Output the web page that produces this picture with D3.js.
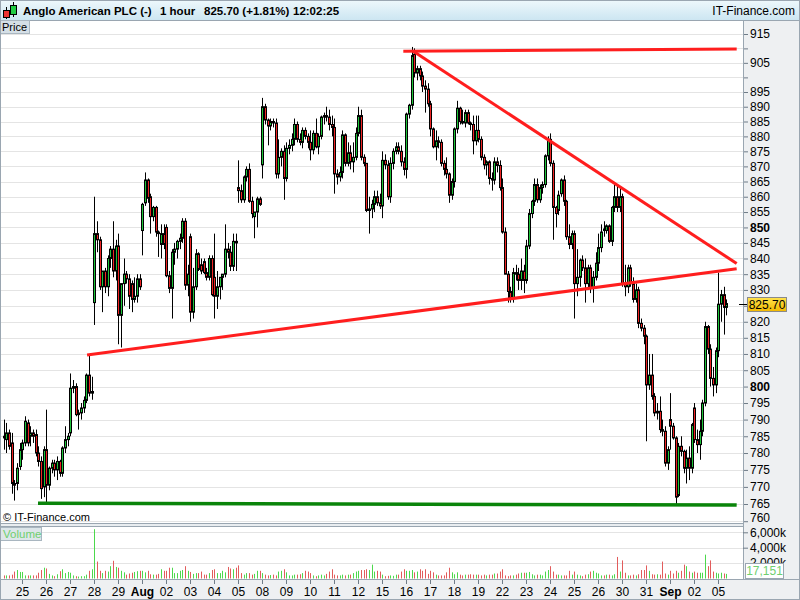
<!DOCTYPE html>
<html>
<head>
<meta charset="utf-8">
<script src="https://cdn.jsdelivr.net/npm/d3@7"></script>
<style>
body { margin: 0; background: #fff; }
svg { display: block; font-family: "Liberation Sans", Arial, sans-serif; }
</style>
</head>
<body>
<div id="chart"></div>
<script>
// day labels under the x axis (first one is Jul 25, a partial Jul 22 comes before it)
var dayLabels = ["25","26","27","28","29","Aug","02","03","04","05","08","09","10","11","12","15",
                 "16","17","18","19","22","23","24","25","26","30","31","Sep","02","05"];
var boldLabels = ["Aug", "Sep"];
var firstDayCount = 7;   // hourly bars of Jul 22 still on screen
var barsPerDay = 9;

// hourly candles [open, high, low, close]
var candles = [
  // Jul 22
  [785,790,781,784.5],[784,789,780,786],[786,787,781,782],[783,786,768,771],[771,772,766,770.5],[771,777,769,775.5],[776,783,775,781],
  // Jul 25
  [781,784,778,783],[783,791,782,789.5],[789,790,782,783],[785,788,782,786],[786,787,783,785],[785.5,787,779,780],[780,782,776,777.5],[777.5,779,766.5,769.5],[770,782,767,781],
  // Jul 26
  [781,793,765,770.5],[770.5,776,769,775.5],[775.5,778,774,777],[777,778,773,775],[775,779,772,777.5],[777.5,778,773,774],[774,782,773,781.5],[781.5,788,780,784],[784,786,782,785],
  // Jul 27
  [786,804,785,799.5],[799.5,802,798,800],[800,801,791,791.5],[791.5,793,787,792],[792,795,790,793.5],[793.5,797,792,795.8],[795.8,804,795,803.5],[803.5,810,797,798],[798,803,796,798.5],
  // Jul 28
  [826,860,819,848],[848,852,842,846],[846,847,830,831],[831,836,823,836],[836,837,829,831],[831,841,828,840],[840,844,837,843],[843,852,834,836],[836,846,833,844],
  // Jul 29
  [844,848,813,822],[822,832,812,832],[832,840,825,835],[835,836,832,833.5],[833.5,835,824,828],[832,833,823,827],[827,834,826,828],[828,835,826,833.5],[833.5,835,830,831],
  // Aug 01
  [849,858,841,857.5],[858,868,857,865.5],[865.5,866,858,859.5],[860,861,848,853.5],[853.5,857,852,856.5],[856.5,857,847,848.5],[848.5,849,840.5,848],[844.5,851,840,848],[848,851,843,844.5],
  // Aug 02
  [850,851,834,834.5],[834.5,836,829,830.5],[830.5,843,821,842],[842,845,838,843],[843,846,840,845.5],[845.5,848,843,846.5],[846.5,853,845,852],[852,853,830,831.5],[831.5,838,828,835],
  // Aug 03
  [847,848,820,823],[823,837,821,831],[831,843,830,841.5],[841.5,842,836,836.5],[838,840,835,836],[839,840,835,835.5],[835.5,837,833,834],[834,841,833,840],[840,841,828,828.5],
  // Aug 04
  [834,848,821,828],[828,836,824,831],[831,834,827,834],[834,835,830,835],[835,851,834,843],[843,845,840,842],[842,844,836,837.5],[837.5,848,836,845.5],[845.5,848,836,845],
  // Aug 05
  [863,872,858,862],[862,864,858,859],[859,867,858,866.5],[866.5,870,865,869],[869,871,858,858.5],[858.5,860,853,854.5],[853.5,855,846.5,855],[855,860,850,859.3],[859.3,860,857,857.5],
  // Aug 08
  [870.5,893,866,890],[890,891,884,885.5],[885.5,886,877,883.5],[883.5,886,882,885],[885,886,883,884.5],[884.5,886,866,867.5],[867.5,879,866,873],[873,876,870,875],[875,877,859,866],
  // Aug 09
  [866,878,865,876],[876,879,874,877],[877,881,875,879],[879,886,877,884],[884,885,878,879],[879,881,877,878],[878,883,876,882],[882,883,879,880],[880,881,876,878],
  // Aug 10
  [878,882,872,875.5],[875.5,882,874,881],[881,886,876,876.5],[876.5,881,874,880],[880,887,879,886.5],[886.5,888,884,887],[887,890,885,886.5],[886.5,889,882,884],[884,887,880,883],
  // Aug 11
  [883,886,861,867.5],[867.5,869,864,866.5],[866.5,870,865,868],[868,882,866,880.5],[880.5,881,870,871],[871,878,870,874.5],[874.5,877,869,871.5],[871.5,878,868,873],[873,883,872,881],
  // Aug 12
  [881,890,880,887],[887,889,872,873],[873,874,870,871],[871,871,855,855.5],[855.5,860,848,856],[856,859,853,857.5],[857.5,862,855,860],[860,862,857,858],[858,861,856,857],
  // Aug 15
  [857,875,853,872],[872,874,869,870.5],[870.5,872,859,860],[860,873,858,871],[871,876,869,875],[875,878,874,876.5],[876.5,878,874,875],[875,877,870,871.5],[871.5,873,867,869],
  // Aug 16
  [869,888,866,887.5],[887.5,891,886,890.5],[890.5,910.5,889,907.5],[908,910,900,901.5],[901.5,904,899,903],[903,904,899,900.5],[900.5,902,895,897],[897,899,888,896],[896,898,890,891],
  // Aug 17
  [891,892,880,882.5],[882.5,883,876,876.5],[876.5,882,872,878.5],[878.5,880,876,878],[878,879,870,871],[871,872,867,869],[869,873,866,867.5],[867.5,868,858,860.5],[860.5,866,859,865],
  // Aug 18
  [865,883,863,882.5],[882.5,892,881,889.5],[889.5,890,884,885],[885,889,884,884.5],[884.5,889,883,888],[888,889,884,884.5],[884.5,885,882,884],[884,887,874,878.5],[878.5,887,877,882],
  // Aug 19
  [882,887,878,879],[879,880,872,873],[873,874,869,870.5],[870.5,872,867,871.5],[871.5,872,864,866],[866,868,862,865.5],[865.5,873,864,871.5],[871.5,873,868,870.3],[870.3,872,862,863],
  // Aug 22
  [863,866,848,848.5],[848.5,850,835,835],[835,836,826,829.5],[829.5,831,826,827.5],[827.5,837,826,835.5],[835.5,838,833,835],[835,837,830,833],[833,840,830,836],[836,838,829,833],
  // Aug 23
  [833,846,832,844],[844,856,843,854.5],[854.5,859,853,858.5],[858.5,866,857,864],[864,866,858,859],[859,864,858,863],[863,865,861,864],[864,874,863,873.5],[873.5,880,872,879],
  // Aug 24
  [879,881,870,871],[871,872,846,856.5],[856.5,857,850,854.5],[855.5,862,854,860.5],[861,866,860,865.5],[865.5,867,857,858.5],[858.5,859,846,847],[847,851,843,844.5],[844.5,849,843,848],
  // Aug 25
  [848,849,821,832],[832,843,828,834],[834,840,831,839.5],[839.5,841,836,837],[837,840,826,832],[832,838,830,837],[837,838,829,830.5],[830.5,836,826,834],[834,842,833,838.5],
  // Aug 26
  [838.5,848,836,843.5],[843.5,851,842,848.5],[849.5,852,847,849],[849,851,848,850.5],[850.5,851,845,845.5],[845.5,857,844,856.5],[856.5,864,855,860],[860,864,855,856.5],[856.5,863,855,860],
  // Aug 30
  [860,861,831,832],[832,838,828,831],[831,838,829,837],[837,838,831,832],[832,834,826,827],[827,832,826,830],[830,831,818,819.5],[819.5,821,817,818],[818,819,813,815.5],
  // Aug 31
  [815.5,816,783.5,800.5],[800.5,810,799,803.5],[803.5,810,796,797],[797,798,791,792],[792,795,790,792.5],[792.5,797,786,787],[787,790,785,786.5],[786.5,788,776,777],[777,782,775,781],
  // Sep 01
  [790,798,781,788],[788,789,784,784.5],[784.5,785,765,767],[767.5,783,767,782],[782,785,779,780.5],[780.5,781,774,775.5],[775.5,781,771,778.5],[778.5,782,772,775.5],[775.5,789,774,788.5],
  // Sep 02
  [793.5,795,783,784],[784,787,780,782.5],[782.5,790,778,786.5],[786.5,796,785,795],[795,820,794,818.5],[818.5,819,810,811.5],[811.5,813,800,802.5],[802.5,806,797,800.5],[800.5,812,798,811],
  // Sep 05
  [811,835.5,809,825.5],[825.5,830,820,828.5],[828.5,831,816,824.5],[824.5,827,822,825.7]
];

// hourly volume, thousands of shares
var volumes = [
  400,400,400,500,900,1100,850,
  850,400,400,400,400,400,750,1100,1400,
  1300,600,400,300,550,950,1200,700,850,
  750,400,300,250,300,300,500,1000,1200,
  6400,2200,1000,700,1000,900,1600,2300,1500,
  1400,1000,800,500,650,750,850,950,1000,
  1000,800,1000,550,500,500,600,1200,1000,
  1000,1400,1400,700,700,1000,1100,1600,1000,
  850,600,700,700,900,500,500,700,1100,
  1200,700,700,1000,800,1500,1300,1200,1400,
  1700,700,500,700,700,500,600,1000,1000,
  700,500,400,450,500,400,900,1000,1200,
  800,400,400,500,500,550,700,1000,900,
  700,400,300,400,500,400,600,900,1200,
  500,400,400,500,400,500,500,700,900,
  1000,1100,1100,1200,1100,1800,900,1000,900,
  500,300,350,400,350,500,500,900,1200,
  1000,1000,1100,800,900,1200,1000,1200,600,
  1000,800,500,400,400,400,800,1400,800,
  550,800,500,400,500,500,550,500,500,
  500,400,500,400,500,500,650,650,900,
  1200,400,300,400,400,500,650,750,750,
  750,850,550,400,500,500,400,900,1100,
  1600,900,500,500,400,400,400,1000,500,
  900,500,400,300,500,550,900,1000,750,
  650,400,400,500,500,400,550,2800,900,
  2350,750,400,400,500,400,550,1100,1100,
  1700,1000,550,500,550,500,2200,650,500,
  1000,650,1000,750,1000,1800,1600,900,750,
  900,750,750,750,3100,1600,2350,900,750,
  650,750,650,600
];

var priceTicks = d3.range(760, 916, 5);
var unlabelled = [900, 910, 825];   // 825 sits under the last-price tag
var boldPrices = [850, 800];
var volTicks = [2000, 4000, 6000];

// drawn trend lines: [bar index, price] -> [bar index, price]
var redLines = [
  [[150, 909.0], [275, 909.8]],
  [[153.6, 909.1], [275, 838.4]],
  [[31.4, 809.7], [275, 836.7]]
];
var greenLines = [
  [[13, 765.2], [275, 764.7]]
];

var lastPrice = 825.70;
var lastVolume = "17,151";
var title = ["Anglo American PLC (-)", "1 hour", "825.70 (+1.81%)", "12:02:25"];

var W = 800, H = 600;
var plotRight = 743;
var upColor = "#1ec43a", downColor = "#ee2424";
var volUp = "#4cd94c", volDown = "#e25c5c";
var frame = "#9aa6b1";

var svg = d3.select("#chart").append("svg")
    .attr("width", W)
    .attr("height", H);

var defs = svg.append("defs");
var hg = defs.append("linearGradient").attr("id", "hdr").attr("x1", 0).attr("y1", 0).attr("x2", 0).attr("y2", 1);
hg.append("stop").attr("offset", "0%").attr("stop-color", "#eef8fc");
hg.append("stop").attr("offset", "100%").attr("stop-color", "#cbe5f1");
var gg = defs.append("linearGradient").attr("id", "gold").attr("x1", 0).attr("y1", 0).attr("x2", 0).attr("y2", 1);
gg.append("stop").attr("offset", "0%").attr("stop-color", "#ffe34d");
gg.append("stop").attr("offset", "100%").attr("stop-color", "#f2b800");
defs.append("clipPath").attr("id", "pclip").append("rect")
    .attr("x", 0).attr("y", 22).attr("width", plotRight).attr("height", 501);
// the 2,000k label is half hidden by the last-volume tag (coords local to the axis group)
defs.append("clipPath").attr("id", "vclip").append("rect")
    .attr("x", 0).attr("y", 527).attr("width", W - plotRight).attr("height", 36);

// scales
var x = d3.scaleLinear()
    .domain([firstDayCount, firstDayCount + barsPerDay * 29])
    .range([22, 718]);
var y = d3.scaleLog().domain([765, 915]).range([504, 34]);
var yv = d3.scaleLinear().domain([0, 6000]).range([578.5, 532.3]);

function cx(i) { return Math.round(x(i + 0.5)) - 0.5; }

svg.append("rect").attr("width", W).attr("height", H).attr("fill", "#fff");

// header
svg.append("rect").attr("x", 0).attr("y", 0).attr("width", W).attr("height", 21).attr("fill", "url(#hdr)");
svg.append("line").attr("x1", 0).attr("x2", W).attr("y1", 20.5).attr("y2", 20.5).attr("stroke", frame);

// little candle icon
var icon = svg.append("g");
icon.append("line").attr("x1", 6.5).attr("x2", 6.5).attr("y1", 7).attr("y2", 19).attr("stroke", "#000");
icon.append("rect").attr("x", 3.5).attr("y", 10.5).attr("width", 6).attr("height", 7).attr("fill", "#ee3333").attr("stroke", "#000");
icon.append("line").attr("x1", 13.5).attr("x2", 13.5).attr("y1", 2).attr("y2", 17).attr("stroke", "#000");
icon.append("rect").attr("x", 10.5).attr("y", 5.5).attr("width", 6).attr("height", 9).attr("fill", "#22cc44").attr("stroke", "#000");

var titleX = [23, 160, 204, 293];
svg.selectAll("text.title")
  .data(title)
  .enter()
  .append("text")
    .attr("class", "title")
    .attr("x", function(d, i) { return titleX[i]; })
    .attr("y", 15)
    .attr("font-size", "11.5px")
    .attr("font-weight", "bold")
    .text(function(d) { return d; });

svg.append("text").attr("x", 795).attr("y", 15).attr("text-anchor", "end")
    .attr("font-size", "12px").text("IT-Finance.com");

// right axis + bottom axis background
svg.append("rect").attr("x", plotRight).attr("y", 21).attr("width", W - plotRight).attr("height", 559).attr("fill", "#eef0f2");
svg.append("rect").attr("x", 0).attr("y", 580).attr("width", W).attr("height", 20).attr("fill", "#eef0f2");

// price grid
var plot = svg.append("g").attr("clip-path", "url(#pclip)");
plot.selectAll("line.grid")
  .data(priceTicks)
  .enter()
  .append("line")
    .attr("x1", 0).attr("x2", plotRight)
    .attr("y1", function(d) { return Math.round(y(d)) + 0.5; })
    .attr("y2", function(d) { return Math.round(y(d)) + 0.5; })
    .attr("stroke", "#e4e4e4");

// candles
var bars = plot.selectAll("g.bar")
  .data(candles)
  .enter()
  .append("g");
bars.append("line")
    .attr("x1", function(d, i) { return cx(i); })
    .attr("x2", function(d, i) { return cx(i); })
    .attr("y1", function(d) { return y(d[1]); })
    .attr("y2", function(d) { return y(d[2]); })
    .attr("stroke", "#000");
bars.append("rect")
    .attr("x", function(d, i) { return cx(i) - 1; })
    .attr("width", 2)
    .attr("y", function(d) { return y(Math.max(d[0], d[3])); })
    .attr("height", function(d) { return Math.max(1, Math.abs(y(d[0]) - y(d[3]))); })
    .attr("fill", function(d) { return d[3] >= d[0] ? upColor : downColor; })
    .attr("stroke", "#000");

// trend lines
function lineXY(p) { return [x(p[0]), y(p[1])]; }
plot.selectAll("line.red")
  .data(redLines)
  .enter()
  .append("line")
    .attr("x1", function(d) { return lineXY(d[0])[0]; })
    .attr("y1", function(d) { return lineXY(d[0])[1]; })
    .attr("x2", function(d) { return lineXY(d[1])[0]; })
    .attr("y2", function(d) { return lineXY(d[1])[1]; })
    .attr("stroke", "#ff1e1e")
    .attr("stroke-width", 3);
plot.selectAll("line.green")
  .data(greenLines)
  .enter()
  .append("line")
    .attr("x1", function(d) { return lineXY(d[0])[0]; })
    .attr("y1", function(d) { return lineXY(d[0])[1]; })
    .attr("x2", function(d) { return lineXY(d[1])[0]; })
    .attr("y2", function(d) { return lineXY(d[1])[1]; })
    .attr("stroke", "#0a840a")
    .attr("stroke-width", 3.5);

svg.append("text").attr("x", 3).attr("y", 521).attr("font-size", "11px").text("\u00a9 IT-Finance.com");

// Price tag top-left
svg.append("rect").attr("x", 0.5).attr("y", 20.5).attr("width", 29).attr("height", 13).attr("fill", "#d5dfe6").attr("stroke", "#a9b6c0");
svg.append("text").attr("x", 2).attr("y", 31).attr("font-size", "11px").text("Price");

// price axis
var yAxis = d3.axisRight(y)
    .tickValues(priceTicks)
    .tickSize(5)
    .tickPadding(2)
    .tickFormat(function(d) { return unlabelled.indexOf(d) >= 0 ? "" : d; });
var ya = svg.append("g").attr("transform", "translate(" + plotRight + ",0)").call(yAxis);
ya.select(".domain").remove();
ya.selectAll(".tick line").attr("stroke", "#6f7c88");
ya.selectAll(".tick text")
    .attr("font-size", "12px")
    .attr("font-family", "Liberation Sans, Arial, sans-serif")
    .attr("fill", "#000")
    .attr("font-weight", function(d) { return boldPrices.indexOf(d) >= 0 ? "bold" : "normal"; })
    .attr("y", function(d) { return d === 760 ? -4 : 0; });

// separator between panels
svg.append("rect").attr("x", 0).attr("y", 523).attr("width", plotRight).attr("height", 4).attr("fill", "#e9edf0");
svg.append("line").attr("x1", 0).attr("x2", plotRight).attr("y1", 523.5).attr("y2", 523.5).attr("stroke", frame);
svg.append("line").attr("x1", 0).attr("x2", plotRight).attr("y1", 526.5).attr("y2", 526.5).attr("stroke", frame);
svg.append("line").attr("x1", plotRight + 0.5).attr("x2", plotRight + 0.5).attr("y1", 21).attr("y2", 580).attr("stroke", frame);

// current price tag
var lp = Math.round(y(lastPrice));
svg.append("line").attr("x1", 739).attr("x2", 747).attr("y1", lp + 0.5).attr("y2", lp + 0.5).attr("stroke", "#000");
svg.append("rect").attr("x", 747.5).attr("y", lp - 6.5).attr("width", 39).attr("height", 14).attr("fill", "url(#gold)").attr("stroke", "#8a8a8a");
svg.append("text").attr("x", 767).attr("y", lp + 4.5).attr("text-anchor", "middle").attr("font-size", "12px").text(lastPrice.toFixed(2));

// volume panel
svg.selectAll("line.vgrid")
  .data(volTicks)
  .enter()
  .append("line")
    .attr("x1", 0).attr("x2", plotRight)
    .attr("y1", function(d) { return Math.round(yv(d)) + 0.5; })
    .attr("y2", function(d) { return Math.round(yv(d)) + 0.5; })
    .attr("stroke", "#e4e4e4");

svg.selectAll("rect.vol")
  .data(volumes)
  .enter()
  .append("rect")
    .attr("x", function(d, i) { return cx(i) - 0.5; })
    .attr("width", 1)
    .attr("y", function(d) { return yv(d); })
    .attr("height", function(d) { return yv(0) - yv(d); })
    .attr("fill", function(d, i) { return candles[i][3] >= candles[i][0] ? volUp : volDown; });

svg.append("rect").attr("x", 0.5).attr("y", 527.5).attr("width", 41).attr("height", 13).attr("fill", "#dde6ea").attr("stroke", "#a9b6c0");
svg.append("text").attr("x", 3).attr("y", 538).attr("font-size", "11.5px").attr("fill", "#6fcf6f").text("Volume");

var vAxis = d3.axisRight(yv)
    .tickValues(volTicks)
    .tickSize(5)
    .tickPadding(2)
    .tickFormat(function(d) { return d3.format(",")(d) + "k"; });
var va = svg.append("g").attr("transform", "translate(" + plotRight + ",0)")
    .attr("clip-path", "url(#vclip)")
    .call(vAxis);
va.select(".domain").remove();
va.selectAll(".tick line").attr("stroke", "#6f7c88");
va.selectAll(".tick text").attr("font-size", "12px").attr("font-family", "Liberation Sans, Arial, sans-serif").attr("fill", "#000");

svg.append("rect").attr("x", 745.5).attr("y", 563.5).attr("width", 38).attr("height", 15).attr("fill", "#fff").attr("stroke", "#9aa6b1");
svg.append("text").attr("x", 764.5).attr("y", 575).attr("text-anchor", "middle").attr("font-size", "12px").attr("fill", "#6fcf6f").text(lastVolume);

// date axis
var dayTicks = dayLabels.map(function(d, i) { return firstDayCount + barsPerDay * i; });
var xAxis = d3.axisBottom(x)
    .tickValues(dayTicks)
    .tickSize(4)
    .tickPadding(3)
    .tickFormat(function(d, i) { return dayLabels[i]; });
var xa = svg.append("g").attr("transform", "translate(0,580)").call(xAxis);
xa.select(".domain").remove();
xa.selectAll(".tick line").attr("stroke", "#6f7c88");
xa.selectAll(".tick text")
    .attr("font-size", "12px")
    .attr("font-family", "Liberation Sans, Arial, sans-serif")
    .attr("fill", "#000")
    .attr("font-weight", function(d, i) { return boldLabels.indexOf(dayLabels[i]) >= 0 ? "bold" : "normal"; });

svg.append("line").attr("x1", 0).attr("x2", W).attr("y1", 579.5).attr("y2", 579.5).attr("stroke", frame);
svg.append("rect").attr("x", 0.5).attr("y", 0.5).attr("width", W - 1).attr("height", H - 1)
    .attr("fill", "none").attr("stroke", frame);
</script>
</body>
</html>
